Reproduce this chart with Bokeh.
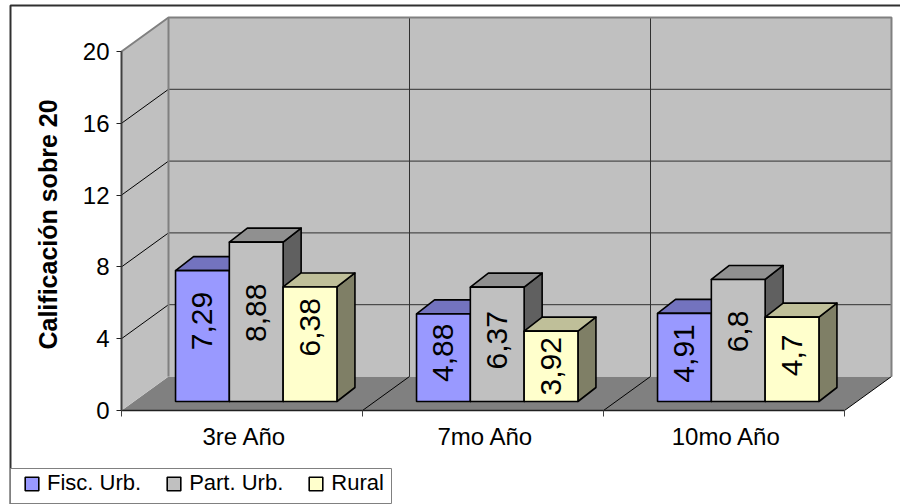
from math import pi
from bokeh.plotting import figure
from bokeh.embed import file_html
from bokeh.resources import INLINE
from bokeh.models import (Range1d, FixedTicker, Legend, LegendItem, Label,
                          BoxAnnotation, ColumnDataSource)

categories = ["3re Año", "7mo Año", "10mo Año"]
series_names = ["Fisc. Urb.", "Part. Urb.", "Rural"]
fisc_urb = [7.29, 4.88, 4.91]
part_urb = [8.88, 6.37, 6.8]
rural = [6.38, 3.92, 4.7]
value_labels = [["7,29", "4,88", "4,91"], ["8,88", "6,37", "6,8"], ["6,38", "3,92", "4,7"]]
y_ticks = [0, 4, 8, 12, 16, 20]
y_title = "Calificación sobre 20"

FONT = "Liberation Sans"
W, H = 900, 504
CAT_PX = 241.0
UNIT_PX = 17.95
X0_PX, Y0_PX = 121, 410
DX = 47 / CAT_PX        # oblique depth of the whole box, x
DY = 34 / UNIT_PX       # oblique depth of the whole box, y
BAR_FRONT = 9 / 34      # depth of bar front inside the box
BAR_LEFT = 41.6 / CAT_PX
BAR_W = 53.8 / CAT_PX

fronts = ["#9999FF", "#C0C0C0", "#FFFFCC"]
tops = ["#7373BF", "#909090", "#BFBF99"]
sides = ["#4D4D80", "#606060", "#7F7F66"]
label_shift = [[15, 5, 4], [9, 4, 9], [17, 0, 4]]   # screen px above the bar middle

p = figure(width=W, height=H, output_backend="svg", toolbar_location=None,
           x_range=Range1d(-X0_PX / CAT_PX, (W - X0_PX) / CAT_PX),
           y_range=Range1d(-(H - Y0_PX) / UNIT_PX, Y0_PX / UNIT_PX),
           min_border_left=0, min_border_right=0, min_border_top=0, min_border_bottom=0)
p.outline_line_color = None
p.background_fill_color = "white"
p.border_fill_color = "white"
p.grid.visible = False

n = len(categories)
top_v = y_ticks[-1]
# floor, side wall, back wall
p.patch([0, n, n + DX, DX], [0, 0, DY, DY], fill_color="#808080", line_color=None)
p.patch([0, DX, DX, 0], [0, DY, top_v + DY, top_v], fill_color="#C0C0C0", line_color=None)
p.quad(left=[DX], right=[n + DX], bottom=[DY], top=[top_v + DY], fill_color="#C0C0C0", line_color=None)
# gridlines
grid_t = y_ticks[1:-1]
p.segment([DX] * len(grid_t), [t + DY for t in grid_t], [n + DX] * len(grid_t), [t + DY for t in grid_t],
          line_color="#303030", line_width=1)
p.segment([0] * len(grid_t), grid_t, [DX] * len(grid_t), [t + DY for t in grid_t],
          line_color="#000000", line_width=1)
p.segment([i + DX for i in range(1, n)], [DY] * (n - 1), [i + DX for i in range(1, n)], [top_v + DY] * (n - 1),
          line_color="#303030", line_width=1)
p.segment(list(range(1, n + 1)), [0] * n, [i + DX for i in range(1, n + 1)], [DY] * n,
          line_color="#000000", line_width=1)
# wall edges
p.line([0, DX, n + DX, n + DX], [top_v, top_v + DY, top_v + DY, DY], line_color="#808080", line_width=2)
p.line([DX, DX], [DY, top_v + DY], line_color="#808080", line_width=2)

# bars
front_r = []
all_values = [fisc_urb, part_urb, rural]
x0 = BAR_FRONT * DX
y0 = BAR_FRONT * DY
dx = 18 / CAT_PX
dy = 14 / UNIT_PX
lab_x, lab_y, lab_t, lab_off = [], [], [], []
for s, vals in enumerate(all_values):
    lefts = [c + x0 + BAR_LEFT + s * BAR_W for c in range(n)]
    rights = [l + BAR_W for l in lefts]
    tops_y = [y0 + v for v in vals]
    p.patches([[r, r + dx, r + dx, r] for r in rights],
              [[y0, y0 + dy, t + dy, t] for t in tops_y],
              fill_color=sides[s], line_color="black", line_width=1.6, line_join="round")
    p.patches([[l, l + dx, r + dx, r] for l, r in zip(lefts, rights)],
              [[t, t + dy, t + dy, t] for t in tops_y],
              fill_color=tops[s], line_color="black", line_width=1.6, line_join="round")
    r = p.quad(left=lefts, right=rights, bottom=[y0] * n, top=tops_y,
               fill_color=fronts[s], line_color="black", line_width=1.6)
    front_r.append(r)
    for c in range(n):
        lab_x.append((lefts[c] + rights[c]) / 2)
        lab_y.append(y0 + vals[c] / 2)
        lab_t.append(value_labels[s][c])
        lab_off.append(-label_shift[s][c])

src = ColumnDataSource(dict(x=lab_x, y=lab_y, t=lab_t, off=lab_off))
p.text("x", "y", text="t", source=src, y_offset="off", angle=pi / 2, text_align="center",
       text_baseline="middle", text_font={"value": FONT}, text_font_size="30px", text_color="black")

# axes (pinned at the data origin so the frame can span the whole picture)
ax = p.yaxis[0]
ax.fixed_location = 0
ax.ticker = FixedTicker(ticks=y_ticks)
ax.bounds = (y_ticks[0], y_ticks[-1])
ax.major_label_text_font = FONT
ax.major_label_text_font_size = "24px"
ax.major_label_text_color = "black"
ax.major_label_standoff = 7
ax.major_tick_in = 0
ax.major_tick_out = 5
ax.major_tick_line_color = "#202020"
ax.minor_tick_line_color = None
ax.axis_line_color = "#404040"
ax.axis_line_width = 2

bx = p.xaxis[0]
bx.fixed_location = 0
bx.ticker = FixedTicker(ticks=[i + 0.51 for i in range(n)], minor_ticks=list(range(n + 1)))
bx.major_label_overrides = {i + 0.51: c for i, c in enumerate(categories)}
bx.bounds = (0, n)
bx.major_label_text_font = FONT
bx.major_label_text_font_size = "24px"
bx.major_label_text_color = "black"
bx.major_label_standoff = 6
bx.major_tick_in = 0
bx.major_tick_out = 0
bx.minor_tick_in = 0
bx.minor_tick_out = 6
bx.minor_tick_line_color = "#404040"
bx.axis_line_color = "#202020"
bx.axis_line_width = 1.5

p.add_layout(Label(x=47, y=H - 224, x_units="screen", y_units="screen", text=y_title, angle=pi / 2,
                   text_align="center", text_baseline="middle", text_font=FONT,
                   text_font_size="25px", text_font_style="bold", text_color="black"))

# outer chart border (top and left edges) and legend box
p.add_layout(BoxAnnotation(left=10, right=960, top=5, bottom=560,
                           left_units="canvas", right_units="canvas", top_units="canvas", bottom_units="canvas",
                           fill_alpha=0, line_color="#303030", line_alpha=1, line_width=2))
p.add_layout(BoxAnnotation(left=10, right=391, top=468, bottom=503,
                           left_units="canvas", right_units="canvas", top_units="canvas", bottom_units="canvas",
                           fill_color="white", fill_alpha=1, line_color="#808080", line_alpha=1, line_width=1))

legend = Legend(items=[LegendItem(label=nm, renderers=[front_r[i]]) for i, nm in enumerate(series_names)],
                orientation="horizontal", location=(23, 8))
legend.label_text_font = FONT
legend.label_text_font_size = "22px"
legend.label_text_color = "black"
legend.glyph_width = 17
legend.glyph_height = 17
legend.label_standoff = 7
legend.spacing = 24
legend.padding = 0
legend.margin = 0
legend.border_line_color = None
legend.background_fill_alpha = 0
p.add_layout(legend, "center")

open("out.html", "w").write(file_html(p, INLINE))
